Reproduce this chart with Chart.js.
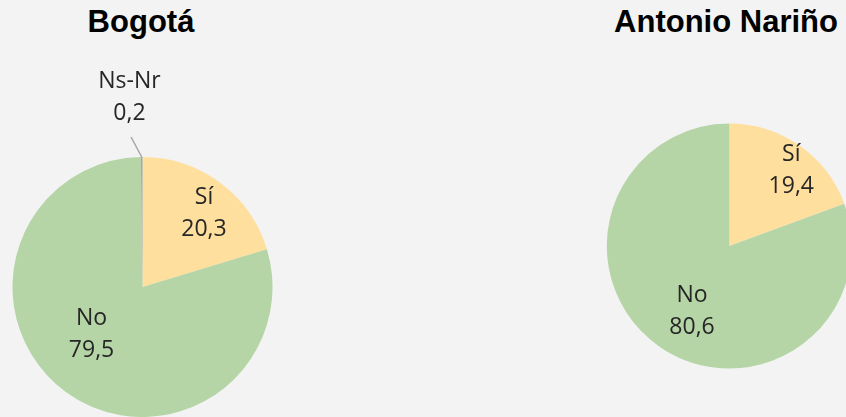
<!DOCTYPE html>
<html>
<head>
<meta charset="utf-8">
<script src="https://cdn.jsdelivr.net/npm/chart.js@4/dist/chart.umd.min.js"></script>
<style>
  html, body { margin: 0; padding: 0; }
  body { width: 846px; height: 417px; overflow: hidden; position: relative; background: #f3f3f3; }
  .title { position: absolute; top: 6px; font: bold 31px "Liberation Sans", Arial, sans-serif;
           line-height: 31px; color: #000; white-space: nowrap; transform: translateX(-50%); }
  .box { position: absolute; top: 0; height: 417px; }
</style>
</head>
<body>
<div class="title" style="left:141px">Bogotá</div>
<div class="title" style="left:726px">Antonio Nariño</div>
<div class="box" style="left:0;width:423px"><canvas id="bogotaChart"></canvas></div>
<div class="box" style="left:423px;width:450px"><canvas id="narinoChart"></canvas></div>
<script>
/* data */
var categories = ['Sí', 'No', 'Ns-Nr'];
var bogotaValues = [20.3, 79.5, 0.2];
var narinoValues = [19.4, 80.6];
var valueLabels = { bogota: ['20,3', '79,5', '0,2'], narino: ['19,4', '80,6'] };

var colors = ['#ffdf9e', '#b5d5a6', '#a5a5a5'];

/* label spots, as fractions of the radius from the pie centre */
var bogotaSpots = [[0.473, -0.562], [-0.392, 0.362], [-0.1, -1.458]];
var narinoSpots = [[0.506, -0.62], [-0.304, 0.536]];

// draws "category / value" labels, with a leader line for outside ones
var pieLabels = {
    id: 'pieLabels',
    afterDraw: function (chart, args, opts) {
        var ctx = chart.ctx;
        var meta = chart.getDatasetMeta(0);
        ctx.save();
        ctx.font = '23px "Open Sans", sans-serif';
        ctx.fillStyle = '#262626';
        ctx.textAlign = 'center';
        ctx.textBaseline = 'middle';
        meta.data.forEach(function (arc, i) {
            var p = arc.getProps(['x', 'y', 'startAngle', 'endAngle', 'outerRadius'], true);
            var spot = opts.spots[i];
            var lx = p.x + spot[0] * p.outerRadius;
            var ly = p.y + spot[1] * p.outerRadius;
            if (Math.abs(spot[1]) > 1) {
                var mid = (p.startAngle + p.endAngle) / 2;
                ctx.strokeStyle = '#a6a6a6';
                ctx.lineWidth = 1.5;
                ctx.beginPath();
                ctx.moveTo(p.x + Math.cos(mid) * p.outerRadius, p.y + Math.sin(mid) * p.outerRadius);
                ctx.lineTo(p.x - 0.088 * p.outerRadius, p.y - 1.154 * p.outerRadius);
                ctx.stroke();
            }
            ctx.fillText(chart.data.labels[i], lx, ly - 16);
            ctx.fillText(opts.values[i], lx, ly + 16);
        });
        ctx.restore();
    }
};

function pie(id, values, spots, labels, padding) {
    return new Chart(document.getElementById(id), {
        type: 'pie',
        data: {
            labels: categories.slice(0, values.length),
            datasets: [{
                data: values,
                backgroundColor: colors.slice(0, values.length),
                borderWidth: 0, offset: 0, hoverOffset: 0
            }]
        },
        options: {
            responsive: true, maintainAspectRatio: false, animation: false, events: [],
            layout: { padding: padding },
            plugins: { legend: { display: false }, tooltip: { enabled: false },
                       pieLabels: { spots: spots, values: labels } }
        },
        plugins: [pieLabels]
    });
}

pie('bogotaChart', bogotaValues, bogotaSpots, valueLabels.bogota,
    { left: 12.5, top: 157, right: 150.5, bottom: 0 });
pie('narinoChart', narinoValues, narinoSpots, valueLabels.narino,
    { left: 183.8, top: 123.5, right: 21.2, bottom: 48.5 });
</script>
</body>
</html>
